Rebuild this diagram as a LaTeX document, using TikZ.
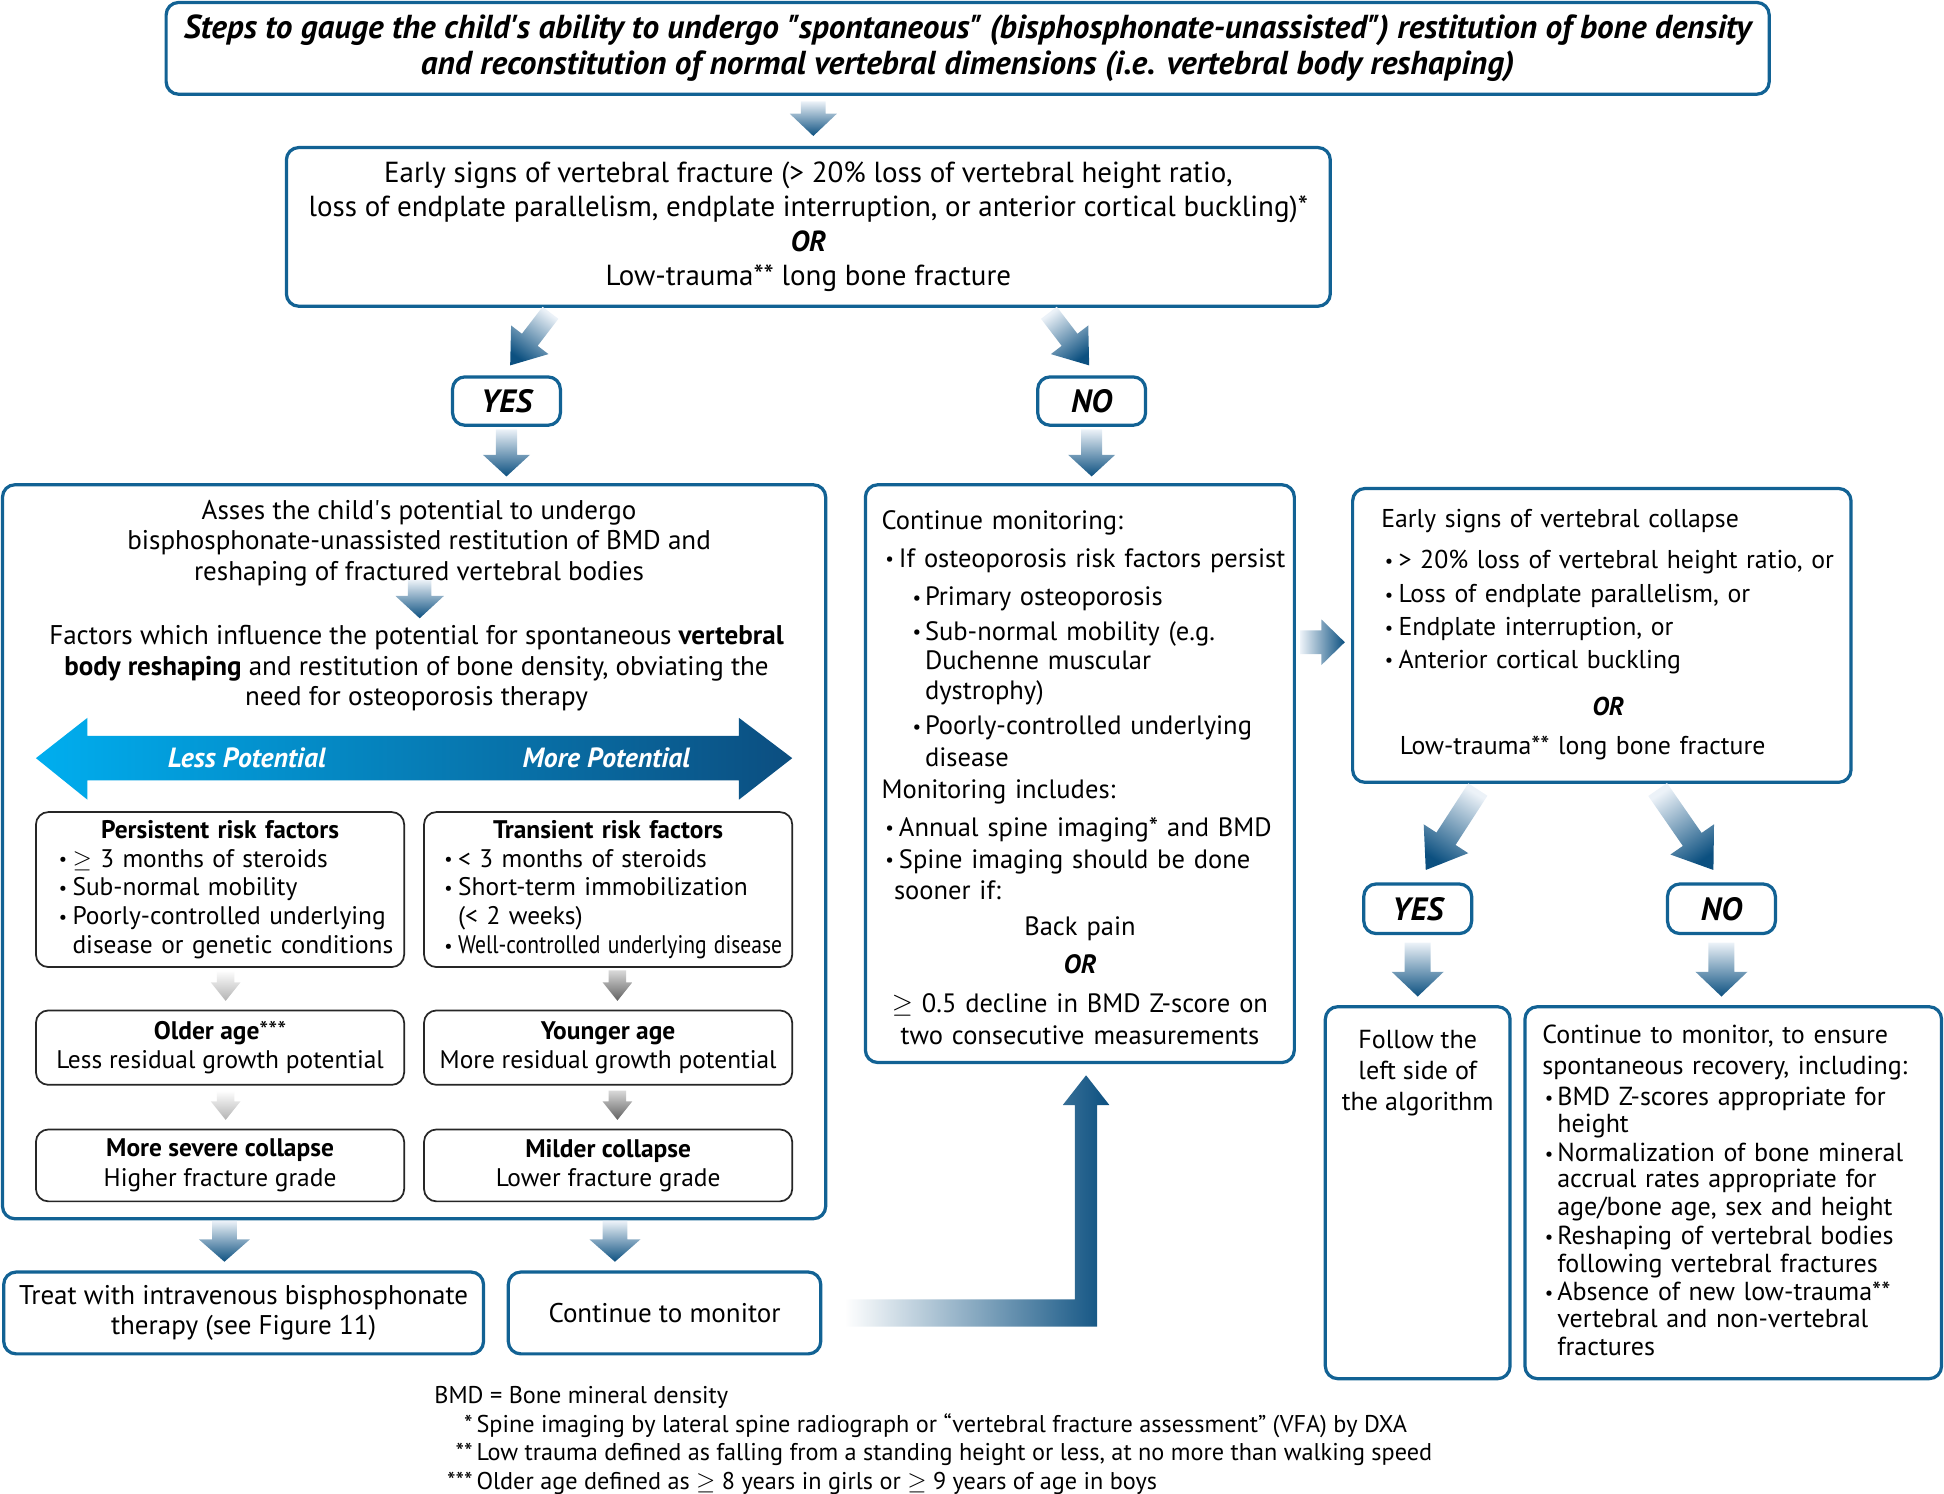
\documentclass[tikz,border=0pt]{standalone}
\usepackage{fontspec}
\setmainfont{PT Sans}
\usetikzlibrary{calc}

\definecolor{boxblue}{RGB}{18,98,148}
\definecolor{arrowdark}{RGB}{12,80,128}
\definecolor{arrowlight}{RGB}{236,242,248}
\definecolor{lesscyan}{RGB}{0,174,239}
\definecolor{moreblue}{RGB}{12,78,128}

\tikzset{
  bluebox/.style={draw=boxblue, line width=1.3pt, rounded corners=5pt, fill=white, inner sep=0pt},
  riskbox/.style={draw=black!85, line width=0.7pt, rounded corners=5pt, inner sep=0pt, minimum width=148.5pt, text width=140pt, align=left, font=\fontsize{10.25}{11.6}\selectfont},
  stagebox/.style={draw=black!85, line width=0.7pt, rounded corners=5pt, inner sep=0pt, minimum width=148.5pt, align=center, font=\fontsize{10.25}{11.8}\selectfont},
  answer/.style={bluebox, minimum width=43.5pt, minimum height=19.5pt, font=\bfseries\itshape\fontsize{13}{15}\selectfont},
  potential/.style={text=white, font=\bfseries\itshape\fontsize{11.2}{12}\selectfont},
  downshade/.style={top color=arrowlight, bottom color=arrowdark},
  palegray/.style={top color=white, bottom color=black!30},
  darkgray/.style={top color=black!15, bottom color=black!62},
}

% block arrow: [shading]{from}{to}{shaft half}{head half}{head length}
\newcommand{\fatarrow}[6][]{%
  \shade[#1] let \p1=#2, \p2=#3, \n1={atan2(\y2-\y1,\x2-\x1)} in
    ($(\p1)+({\n1+90}:#4)$) -- ($(\p2)+({\n1+180}:#6)+({\n1+90}:#4)$)
    -- ($(\p2)+({\n1+180}:#6)+({\n1+90}:#5)$) -- (\p2)
    -- ($(\p2)+({\n1+180}:#6)+({\n1-90}:#5)$) -- ($(\p2)+({\n1+180}:#6)+({\n1-90}:#4)$)
    -- ($(\p1)+({\n1-90}:#4)$) -- cycle;
}
\newcommand{\bul}[1][5.5pt]{\makebox[#1][l]{\raisebox{0.1ex}{\scalebox{0.72}{\textbullet}}}}
\newcommand{\qq}{\textquotedbl}

\begin{document}
\begin{tikzpicture}[x=0.5pt, y=-0.5pt, font=\fontsize{10.9}{12.25}\selectfont]
\useasboundingbox (0,0) rectangle (1568,1205);

% top of the chart
\node (title) at (780.5,39) [bluebox, minimum width=646.5pt, minimum height=37pt, align=center, font=\bfseries\itshape\fontsize{13.4}{14.75}\selectfont] {Steps to gauge the child\textquotesingle s ability to undergo \qq spontaneous\qq{} (bisphosphonate-unassisted\qq) restitution of bone density\\and reconstitution of normal vertebral dimensions (i.e. vertebral body reshaping)};
\node (q1) at (652,183) [bluebox, minimum width=421pt, minimum height=64pt, align=center, font=\fontsize{11.7}{13.9}\selectfont] {Early signs of vertebral fracture (> 20\% loss of vertebral height ratio,\\ loss of endplate parallelism, endplate interruption, or anterior cortical buckling)*\\ \textbf{\textit{OR}}\\ Low-trauma** long bone fracture};
\node (yes1) at (408.5,323.5) [answer] {YES};
\node (no1) at (880.5,323.5) [answer] {NO};

% left branch
\node (assess) at (334,687) [bluebox, minimum width=332pt, minimum height=296pt] {};
\node (intro) at (338,438) [align=center] {Asses the child\textquotesingle s potential to undergo\\ bisphosphonate-unassisted restitution of BMD and\\ reshaping of fractured vertebral bodies};
\node (factors) at (336,539) [align=center] {Factors which influence the potential for spontaneous \textbf{vertebral}\\ \textbf{body reshaping} and restitution of bone density, obviating the\\ need for osteoporosis therapy};
\shade[left color=lesscyan, right color=moreblue] (29,611.5) -- (70.5,579) -- (70.5,593.5) -- (596,593.5) -- (596,579) -- (639,611.5) -- (596,645) -- (596,629.5) -- (70.5,629.5) -- (70.5,645) -- cycle;
\node (less) at (199,611.5) [potential] {Less Potential};
\node (more) at (489,611.5) [potential] {More Potential};

\node (persist) at (177.5,717.5) [riskbox, minimum height=62.5pt] {\makebox[\linewidth]{\textbf{Persistent risk factors}}\\ \hspace*{5pt}\bul$\geq$ 3 months of steroids\\ \hspace*{5pt}\bul Sub-normal mobility\\ \hspace*{5pt}\bul Poorly-controlled underlying\\ \hspace*{10.5pt}disease or genetic conditions};
\node (transient) at (490.5,717.5) [riskbox, minimum height=62.5pt] {\makebox[\linewidth]{\textbf{Transient risk factors}}\\ \hspace*{4pt}\bul < 3 months of steroids\\ \hspace*{4pt}\bul Short-term immobilization\\ \hspace*{9.5pt}(< 2 weeks)\\ \hspace*{4pt}\bul \scalebox{0.85}[1]{Well-controlled underlying disease}};
\node (older) at (177.5,845) [stagebox, minimum height=30pt] {\textbf{Older age}***\\ Less residual growth potential};
\node (younger) at (490.5,845) [stagebox, minimum height=30pt] {\textbf{Younger age}\\ More residual growth potential};
\node (severe) at (177.5,940) [stagebox, minimum height=29pt] {\textbf{More severe collapse}\\ Higher fracture grade};
\node (milder) at (490.5,940) [stagebox, minimum height=29pt] {\textbf{Milder collapse}\\ Lower fracture grade};

\node (treat) at (196.5,1059) [bluebox, minimum width=193.5pt, minimum height=33pt, align=center] {Treat with intravenous bisphosphonate\\ therapy (see Figure 11)};
\node (monitor) at (536,1059) [bluebox, minimum width=126pt, minimum height=33pt] {Continue to monitor};

% middle branch
\node (cont) at (871,624) [bluebox, minimum width=173pt, minimum height=233pt] {};
\node (conttxt) at ($(cont.north west)+(14,22)$) [anchor=north west, text width=185pt, align=left, inner sep=0pt, font=\fontsize{10.7}{12}\selectfont] {Continue monitoring:\\[3pt]
\hspace*{1.5pt}\bul[5.5pt]If osteoporosis risk factors persist\\[3.5pt]
\hspace*{12.5pt}\bul[5pt]Primary osteoporosis\\[2pt]
\hspace*{12.5pt}\bul[5pt]Sub-normal mobility (e.g.\\
\hspace*{17.5pt}Duchenne muscular\\
\hspace*{17.5pt}dystrophy)\\[2pt]
\hspace*{12.5pt}\bul[5pt]Poorly-controlled underlying\\[1pt]
\hspace*{17.5pt}disease\\[1pt]
Monitoring includes:\\[3pt]
\hspace*{1.5pt}\bul[5.5pt]Annual spine imaging* and BMD\\[1pt]
\hspace*{1.5pt}\bul[5.5pt]Spine imaging should be done\\[0.5pt]
\hspace*{5pt}sooner if:\\[2.5pt]
\makebox[160pt]{Back pain}\\[3.5pt]
\makebox[160pt]{\textbf{\textit{OR}}}\\[3.5pt]
\makebox[160pt]{$\geq$ 0.5 decline in BMD Z-score on}\\[1pt]
\makebox[160pt]{two consecutive measurements}};

% right branch
\node (collapse) at (1292,512.5) [bluebox, minimum width=201pt, minimum height=118.5pt] {};
\node (collapsetxt) at ($(collapse.north west)+(24,18)$) [anchor=north west, text width=200pt, align=left, inner sep=0pt, font=\fontsize{10.4}{13}\selectfont] {Early signs of vertebral collapse\\[3.5pt]
\hspace*{1.5pt}\bul[5.5pt]> 20\% loss of vertebral height ratio, or\\[0.5pt]
\hspace*{1.5pt}\bul[5.5pt]Loss of endplate parallelism, or\\[0.5pt]
\hspace*{1.5pt}\bul[5.5pt]Endplate interruption, or\\
\hspace*{1.5pt}\bul[5.5pt]Anterior cortical buckling\\[6pt]
\makebox[183pt]{\textbf{\textit{OR}}}\\[3pt]
\hspace*{7.5pt}Low-trauma** long bone fracture};
\node (yes2) at (1143.5,733) [answer, minimum height=20pt] {YES};
\node (no2) at (1388.5,733) [answer, minimum height=20pt] {NO};
\node (follow) at (1143.5,962) [bluebox, minimum width=74.5pt, minimum height=150pt] {};
\node (followtxt) at ($(follow.north)+(0,13)$) [anchor=north, align=center, font=\fontsize{10.5}{12.5}\selectfont] {Follow the\\ left side of\\ the algorithm};
\node (ensure) at (1398,962) [bluebox, minimum width=168pt, minimum height=150pt] {};
\node (ensuretxt) at ($(ensure.north west)+(15,16)$) [anchor=north west, text width=158pt, align=left, inner sep=0pt, font=\fontsize{10.5}{11}\selectfont] {Continue to monitor, to ensure\\[1.5pt]
spontaneous recovery, including:\\[1.5pt]
\hspace*{1pt}\bul[5pt]BMD Z-scores appropriate for\\[-0.5pt]
\hspace*{6pt}height\\[1pt]
\hspace*{1pt}\bul[5pt]Normalization of bone mineral\\[-0.5pt]
\hspace*{6pt}accrual rates appropriate for\\
\hspace*{6pt}age/bone age, sex and height\\[1pt]
\hspace*{1pt}\bul[5pt]Reshaping of vertebral bodies\\
\hspace*{6pt}following vertebral fractures\\[0.5pt]
\hspace*{1pt}\bul[5pt]Absence of new low-trauma**\\
\hspace*{6pt}vertebral and non-vertebral\\
\hspace*{6pt}fractures};

% footnotes
\node (notes) at (350,1118) [anchor=north west, align=left, inner sep=0pt, font=\fontsize{9.77}{11.5}\selectfont] {BMD = Bone mineral density\\
\makebox[17pt][r]{*\,}Spine imaging by lateral spine radiograph or ``vertebral fracture assessment'' (VFA) by DXA\\
\makebox[17pt][r]{**\,}Low trauma defined as falling from a standing height or less, at no more than walking speed\\
\makebox[17pt][r]{***\,}Older age defined as $\geq$ 8 years in girls or $\geq$ 9 years of age in boys};

% arrows
\fatarrow[downshade]{($(q1.north)+(4,-36)$)}{($(q1.north)+(4,-8)$)}{5pt}{9.5pt}{9pt}
\fatarrow[downshade, shading angle=-36]{($(q1.south)+(-208,4)$)}{($(yes1.north)+(3,-8)$)}{4pt}{9.5pt}{13pt}
\fatarrow[downshade, shading angle=36]{($(q1.south)+(194,4)$)}{($(no1.north)+(-2,-8)$)}{4pt}{9.5pt}{13pt}
\fatarrow[downshade]{($(yes1.south)+(0,2)$)}{($(yes1.south)+(0,40)$)}{4.25pt}{9.5pt}{8.75pt}
\fatarrow[downshade]{($(no1.south)+(0,2)$)}{($(no1.south)+(0,40)$)}{4.25pt}{9.5pt}{8.75pt}
\fatarrow[downshade]{($(assess.north)+(4.5,78)$)}{($(assess.north)+(4.5,109)$)}{4.75pt}{9.75pt}{9pt}
\fatarrow[palegray]{($(persist.south)+(4.5,2)$)}{($(older.north)+(4.5,-7)$)}{3.5pt}{6pt}{7.5pt}
\fatarrow[darkgray]{($(transient.south)+(7.5,2)$)}{($(younger.north)+(7.5,-7)$)}{3.5pt}{6pt}{7.5pt}
\fatarrow[palegray]{($(older.south)+(4.5,4)$)}{($(severe.north)+(4.5,-7)$)}{3.5pt}{6pt}{7.5pt}
\fatarrow[darkgray]{($(younger.south)+(7.5,4)$)}{($(milder.north)+(7.5,-7)$)}{3.5pt}{6pt}{7.5pt}
\fatarrow[downshade]{($(treat.north)+(-15.5,-40)$)}{($(treat.north)+(-15.5,-7)$)}{5pt}{10.25pt}{9pt}
\fatarrow[downshade]{($(monitor.north)+(-40,-40)$)}{($(monitor.north)+(-40,-7)$)}{5pt}{10.25pt}{9pt}
\fatarrow[left color=arrowlight, right color=arrowdark]{($(collapse.west)+(-41,5.5)$)}{($(collapse.west)+(-5,5.5)$)}{4.75pt}{9.25pt}{9.5pt}
\fatarrow[downshade, shading angle=-32]{($(collapse.south)+(-100,4.5)$)}{($(yes2.north)+(6.5,-10)$)}{4.6pt}{10.7pt}{15pt}
\fatarrow[downshade, shading angle=34]{($(collapse.south)+(45,4.5)$)}{($(no2.north)+(-6.5,-10)$)}{4.6pt}{10.7pt}{15pt}
\fatarrow[downshade]{($(yes2.south)+(0,6)$)}{($(yes2.south)+(0,49.5)$)}{5.25pt}{10.5pt}{10pt}
\fatarrow[downshade]{($(no2.south)+(0,6)$)}{($(no2.south)+(0,49.5)$)}{5.25pt}{10.5pt}{10pt}

% back to monitoring
\coordinate (lstart) at ($(monitor.east)+(18,0)$);
\coordinate (ltip) at ($(cont.south)+(5,9)$);
\shade[left color=white, right color=arrowdark] ($(lstart)+(0,5.5pt)$) -- ($(lstart -| ltip)+(-4.5pt,5.5pt)$) -- ($(ltip)+(-4.5pt,-12pt)$) -- ($(ltip)+(-9.4pt,-12pt)$) -- (ltip) -- ($(ltip)+(9.4pt,-12pt)$) -- ($(ltip)+(4.5pt,-12pt)$) -- ($(lstart -| ltip)+(4.5pt,-5.5pt)$) -- ($(lstart)+(0,-5.5pt)$) -- cycle;
\end{tikzpicture}
\end{document}
